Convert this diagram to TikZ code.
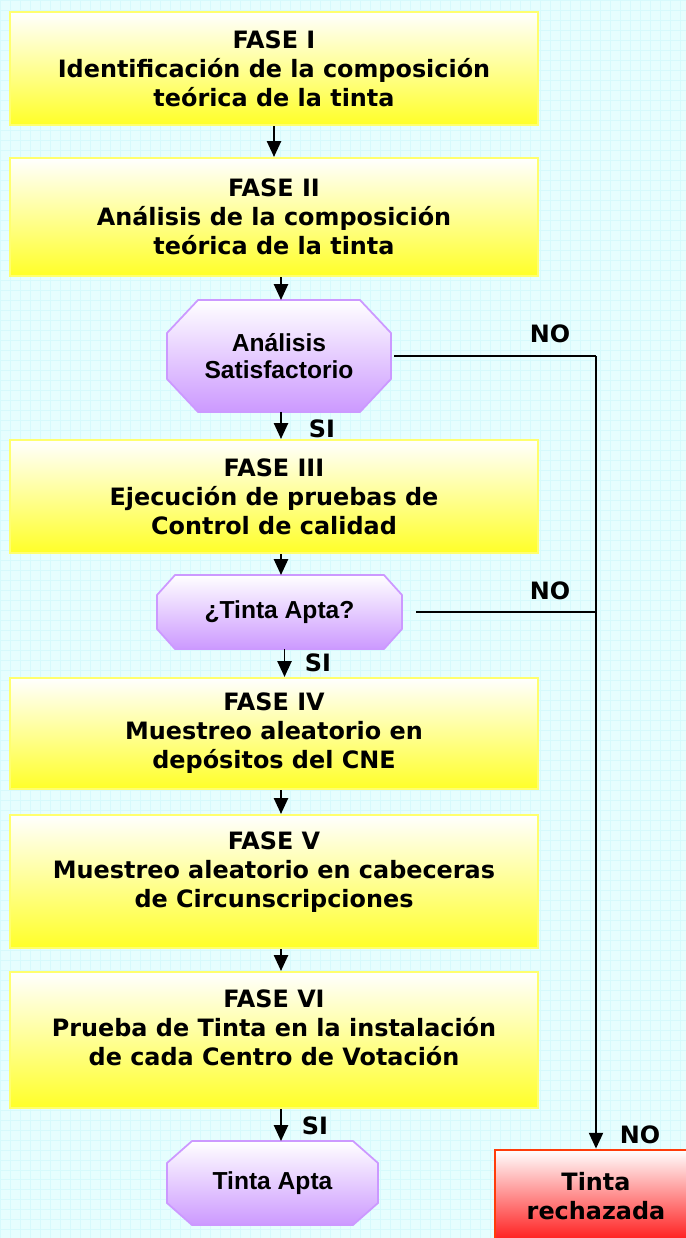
\documentclass[tikz,border=0pt]{standalone}
\usepackage{fontspec}
\setmainfont{DejaVu Sans}
\newfontfamily\arialfont{Liberation Sans}
\usetikzlibrary{arrows.meta,backgrounds}

\definecolor{fondo}{RGB}{230,254,254}
\definecolor{rejilla}{RGB}{214,250,252}
\definecolor{amarillo}{RGB}{255,255,40}
\definecolor{bordeamarillo}{RGB}{255,255,110}
\definecolor{lila}{RGB}{204,153,255}
\definecolor{rojo}{RGB}{255,25,25}
\definecolor{borderojo}{RGB}{255,60,10}

% Achteck um einen Knoten: Knoten, Fase waagrecht, Fase senkrecht
\newcommand\achteck[3]{%
    \shade [achteckfarbe] ([xshift=#2]#1.north west) -- ([xshift=-#2]#1.north east)
        -- ([yshift=-#3]#1.north east) -- ([yshift=#3]#1.south east)
        -- ([xshift=-#2]#1.south east) -- ([xshift=#2]#1.south west)
        -- ([yshift=#3]#1.south west) -- ([yshift=-#3]#1.north west) -- cycle;}

\begin{document}
\begin{tikzpicture}[x=0.02cm, y=-0.02cm,
        fase/.style={draw=bordeamarillo, line width=1.2pt, top color=white, bottom color=amarillo,
            minimum width=10.56cm, align=center, font=\fontsize{13.6}{16.5}\selectfont\bfseries},
        pregunta/.style={align=center, inner sep=0pt, outer sep=0pt,
            font=\arialfont\fontsize{14}{15.5}\selectfont\bfseries},
        achteckfarbe/.style={draw=lila, line width=1pt, top color=white, bottom color=lila},
        rechazo/.style={draw=borderojo, line width=1.6pt, top color=white, bottom color=rojo,
            minimum width=4.04cm, minimum height=1.84cm, align=center, font=\fontsize{13.6}{16.5}\selectfont\bfseries},
        etiqueta/.style={font=\fontsize{13.6}{16.5}\selectfont\bfseries, inner sep=0pt},
        pfeil/.style={line width=1.1pt, -{Triangle[length=9pt,width=8pt]}},
        linie/.style={line width=1.1pt}]

        \useasboundingbox (0,0) rectangle (686,1238);

        % Phasen
        \node [fase, minimum height=2.26cm] (fase1) at (274,68.5) {FASE I\\Identificación de la composición\\teórica de la tinta};
        \node [fase, minimum height=2.36cm] (fase2) at (274,217) {FASE II\\Análisis de la composición\\teórica de la tinta};
        \node [fase, minimum height=2.26cm] (fase3) at (274,496.5) {FASE III\\Ejecución de pruebas de\\Control de calidad};
        \node [fase, minimum height=2.22cm] (fase4) at (274,733.5) {FASE IV\\Muestreo aleatorio en\\depósitos del CNE};
        \node [fase, minimum height=2.66cm] (fase5) at (274,881.5) {FASE V\\Muestreo aleatorio en cabeceras\\de Circunscripciones\rule[-14pt]{0pt}{0pt}};
        \node [fase, minimum height=2.72cm] (fase6) at (274,1040) {FASE VI\\Prueba de Tinta en la instalación\\de cada Centro de Votación\rule[-14pt]{0pt}{0pt}};

        % Entscheidungen
        \node [pregunta, minimum width=4.48cm, minimum height=2.24cm] (analisis) at (279,356) {Análisis\\Satisfactorio};
        \node [pregunta, minimum width=4.9cm, minimum height=1.48cm] (frage) at (279.5,612) {¿Tinta Apta?};
        \node [pregunta, minimum width=4.22cm, minimum height=1.68cm] (apta) at (272.5,1183) {Tinta Apta};

        \node [rechazo] (rechazada) at (596,1196) {Tinta\\rechazada};

        % Hintergrund mit Gitter und Achtecke
        \begin{scope}[on background layer]
            \fill [fondo] (0,0) rectangle (686,1238);
            \draw [rejilla, line width=0.3pt, step=0.2cm] (0,0) grid (686,1238);
            \achteck{analisis}{0.62cm}{0.66cm}
            \achteck{frage}{0.36cm}{0.4cm}
            \achteck{apta}{0.5cm}{0.44cm}
        \end{scope}

        % Achse der Pfeile
        \coordinate (achse) at (281,0);

        \draw [pfeil] (fase1) -- (fase2);
        \draw [pfeil] (fase2.south -| achse) -- (analisis.north -| achse);
        \draw [pfeil] (analisis.south -| achse) -- (fase3.north -| achse);
        \draw [pfeil] (fase3.south -| achse) -- (frage.north -| achse);
        \draw [pfeil] ([xshift=2pt]frage.south -| achse) -- ([xshift=2pt]fase4.north -| achse);
        \draw [pfeil] (fase4.south -| achse) -- (fase5.north -| achse);
        \draw [pfeil] (fase5.south -| achse) -- (fase6.north -| achse);
        \draw [pfeil] (fase6.south -| achse) -- (apta.north -| achse);

        % Nein-Zweig
        \coordinate (knick) at (analisis.east -| rechazada.north);
        \draw [linie] ([xshift=2pt]analisis.east) -- (knick);
        \draw [pfeil] (knick) -- (rechazada.north);
        \draw [linie] ([xshift=8pt]frage.east) -- (frage.east -| rechazada.north);

        % Beschriftungen
        \node [etiqueta] (si1) at (322,429) {SI};
        \node [etiqueta] (si2) at (318,663) {SI};
        \node [etiqueta] (si3) at (315,1125.5) {SI};
        \node [etiqueta] (no1) at (550,333.5) {NO};
        \node [etiqueta] (no2) at (550,591) {NO};
        \node [etiqueta] (no3) at (640,1135) {NO};

\end{tikzpicture}
\end{document}
